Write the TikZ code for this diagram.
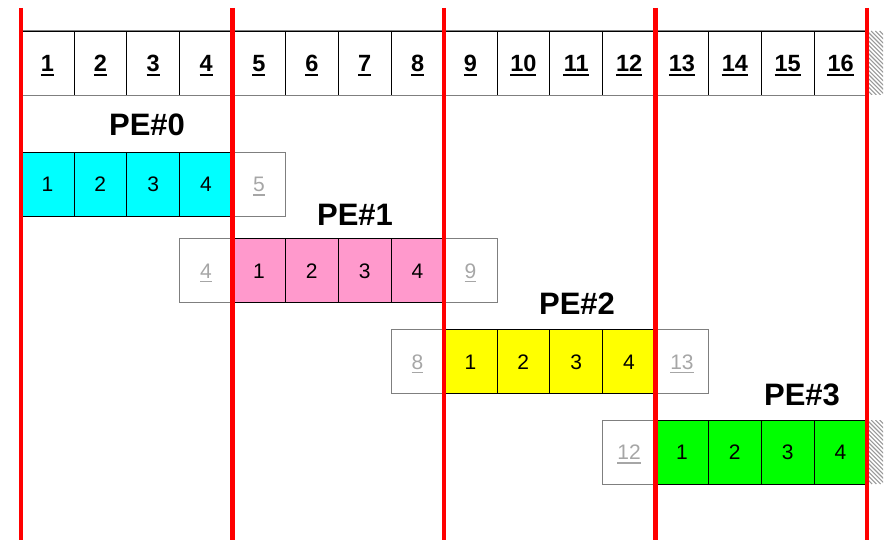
\documentclass[tikz,border=0pt]{standalone}
\usepackage{fontspec}
\setmainfont{Liberation Sans}
\definecolor{pecyan}{HTML}{00FFFF}
\definecolor{pepink}{HTML}{FF99CC}
\definecolor{peyellow}{HTML}{FFFF00}
\definecolor{pegreen}{HTML}{00FF00}
\definecolor{ghost}{HTML}{A6A6A6}
\definecolor{outline}{HTML}{7F7F7F}
\begin{document}
\begin{tikzpicture}[x=1pt,y=-1pt,
  cellbox/.style={draw=black,line width=0.7pt,minimum width=52.875pt,minimum height=64pt,inner sep=0pt,anchor=center,text height=15pt,text depth=0pt,font=\fontsize{21}{21}\selectfont},
  topcell/.style={cellbox,text height=17pt,font=\fontsize{23.5}{23.5}\selectfont\bfseries},
  ghostcell/.style={cellbox,draw=outline,text=ghost},
  topline/.style={draw=black,line width=2pt},
  ghostline/.style={draw=ghost,line width=1.5pt},
  pelabel/.style={font=\fontsize{31}{31}\selectfont\bfseries,inner sep=0pt},
  redline/.style={draw=red,line width=4.6pt},
  hatchline/.style={draw=gray!80,line width=1.1pt}]
\useasboundingbox (0,0) rectangle (890,540);
\def\cw{52.875}
\def\xo{21}
% hatching
\begin{scope}
  \clip (867,31) rectangle (883,95);
  \foreach \k in {-20,...,6} \draw[hatchline] ({867+\k*4.2},31) -- ++(64,64);
\end{scope}
\begin{scope}
  \clip (867,420) rectangle (883,484);
  \foreach \k in {-20,...,6} \draw[hatchline] ({867+\k*4.2},420) -- ++(64,64);
\end{scope}
% top row
\foreach \i in {1,...,16} {
  \node[topcell] (t\i) at ({\xo+(\i-0.5)*\cw},63) {\i};
  \pgfmathsetmacro\uw{\i<10 ? 6.55 : 13.1}
  \draw[topline] ([shift={(-\uw,3.5)}]t\i.base) -- ([shift={(\uw,3.5)}]t\i.base);
}
\draw[outline,line width=0.9pt] (t1.north west) -- (t16.north east) (t1.south west) -- (t16.south east);
% ghost underline helper
\def\gul#1#2{\draw[ghostline] ([shift={(-#2,3.5)}]#1.base) -- ([shift={(#2,3.5)}]#1.base);}
% PE#0
\node[pelabel] (pe0) at (147,125) {PE\#0};
\foreach \i in {1,...,4}
  \node[cellbox,fill=pecyan] (a\i) at ({\xo+(\i-0.5)*\cw},184) {\i};
\node[ghostcell] (ag) at ({\xo+4.5*\cw},184) {5};
\gul{ag}{5.85}
% PE#1
\node[pelabel] (pe1) at (355,215) {PE\#1};
\node[ghostcell] (bgl) at ({\xo+3.5*\cw},270.5) {4};
\gul{bgl}{5.85}
\foreach \i in {1,...,4}
  \node[cellbox,fill=pepink] (b\i) at ({\xo+(\i+3.5)*\cw},270.5) {\i};
\node[ghostcell] (bgr) at ({\xo+8.5*\cw},270.5) {9};
\gul{bgr}{5.85}
% PE#2
\node[pelabel] (pe2) at (577,304) {PE\#2};
\node[ghostcell] (cgl) at ({\xo+7.5*\cw},361.5) {8};
\gul{cgl}{5.85}
\foreach \i in {1,...,4}
  \node[cellbox,fill=peyellow] (c\i) at ({\xo+(\i+7.5)*\cw},361.5) {\i};
\node[ghostcell] (cgr) at ({\xo+12.5*\cw},361.5) {13};
\gul{cgr}{11.7}
% PE#3
\node[pelabel] (pe3) at (802,395) {PE\#3};
\node[ghostcell] (dgl) at ({\xo+11.5*\cw},452) {12};
\gul{dgl}{11.7}
\foreach \i in {1,...,4}
  \node[cellbox,fill=pegreen] (d\i) at ({\xo+(\i+11.5)*\cw},452) {\i};
% red partition lines
\foreach \k in {0,...,4} {
  \coordinate (rt\k) at ({\xo+4*\k*\cw},8);
  \coordinate (rb\k) at ({\xo+4*\k*\cw},540);
  \draw[redline] (rt\k) -- (rb\k);
}
\end{tikzpicture}
\end{document}
